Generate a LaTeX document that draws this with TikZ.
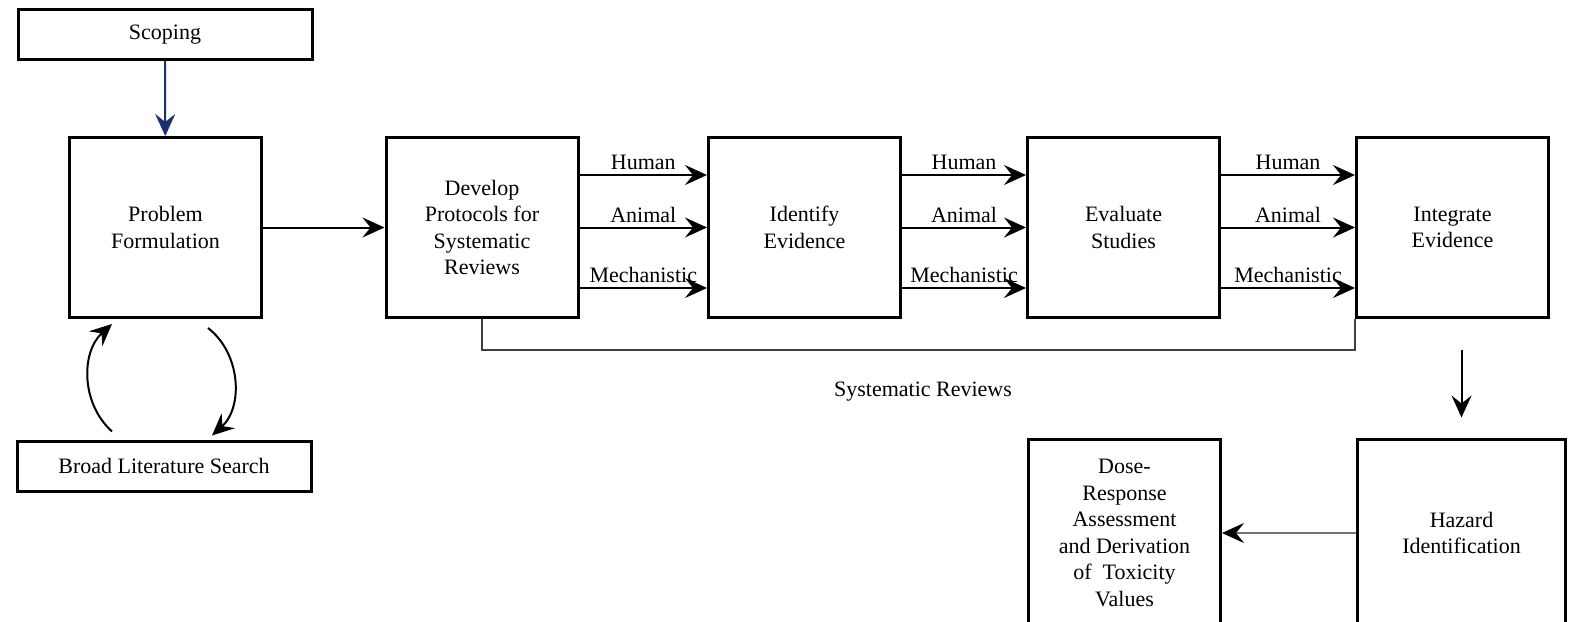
\documentclass[tikz,border=0pt]{standalone}
\usepackage{fontspec}
\setmainfont{Liberation Serif}
\usetikzlibrary{arrows.meta}
\definecolor{scopeblue}{RGB}{28,48,110}
\begin{document}
\begin{tikzpicture}[
      x=0.5pt,y=-0.5pt,
      >={Stealth[length=11pt,width=10pt,inset=4pt]},
      box/.style={
        draw,line width=1.5pt,minimum width=96pt,minimum height=90pt,
        inner sep=2pt,align=center,font=\fontsize{11}{13.25}\selectfont
      },
      wide/.style={
        draw,line width=1.5pt,minimum width=147pt,minimum height=25pt,
        inner sep=2pt,font=\fontsize{11}{13.25}\selectfont
      },
      lbl/.style={above,inner sep=2pt,font=\fontsize{11}{13.25}\selectfont},
      flow/.style={line width=1pt,->},
    ]
    \useasboundingbox (0,0) rectangle (1572,621);
    \node[wide] (scoping) at (165,34.5) {Scoping};
    \node[box] (prob) at (165.5,227.5) {Problem\\Formulation};
    \node[wide] (search) at (164,466) {Broad Literature Search};
    \node[box] (protocol) at (482,227.5) {Develop\\Protocols for\\Systematic\\Reviews};
    \node[box] (identify) at (804.5,227.5) {Identify\\Evidence};
    \node[box] (evaluate) at (1123.5,227.5) {Evaluate\\Studies};
    \node[box] (integrate) at (1452.5,227.5) {Integrate\\Evidence};
    \node[box,minimum width=104pt,minimum height=94pt] (hazard) at (1461.5,533) {Hazard\\Identification};
    \node[box,minimum height=94pt] (dose) at (1124.5,533) {Dose-\\Response\\Assessment\\and Derivation\\of~ Toxicity\\Values};
    \node[font=\fontsize{11}{13.25}\selectfont] (sysrev) at (923,392) {Systematic Reviews};
    \coordinate (sysmid) at (923,350);
    \draw[flow,scopeblue] (scoping) -- (prob);
    \draw[flow] (prob) -- (protocol);
    \draw[flow] ([yshift=4pt,xshift=-26pt]search.north) to[bend left=48] ([yshift=-2.5pt,xshift=-26.75pt]prob.south);
    \draw[flow] ([yshift=-4.5pt,xshift=21.25pt]prob.south) to[bend left=50] ([yshift=2pt,xshift=24pt]search.north);
    \draw[flow] ([yshift=26.25pt]protocol.east) -- node[lbl] {Human} ([yshift=26.25pt]identify.west);
    \draw[flow] (protocol.east) -- node[lbl] {Animal} (identify.west);
    \draw[flow] ([yshift=-30.25pt]protocol.east) -- node[lbl] {Mechanistic} ([yshift=-30.25pt]identify.west);
    \draw[flow] ([yshift=26.25pt]identify.east) -- node[lbl] {Human} ([yshift=26.25pt]evaluate.west);
    \draw[flow] (identify.east) -- node[lbl] {Animal} (evaluate.west);
    \draw[flow] ([yshift=-30.25pt]identify.east) -- node[lbl] {Mechanistic} ([yshift=-30.25pt]evaluate.west);
    \draw[flow] ([yshift=26.25pt]evaluate.east) -- node[lbl] {Human} ([yshift=26.25pt]integrate.west);
    \draw[flow] (evaluate.east) -- node[lbl] {Animal} (integrate.west);
    \draw[flow] ([yshift=-30.25pt]evaluate.east) -- node[lbl] {Mechanistic} ([yshift=-30.25pt]integrate.west);
    \draw[line width=0.8pt,black!75] (protocol.south) |- (sysmid) -| (integrate.south west);
    \draw[flow,shorten <=15.5pt,shorten >=10pt] (hazard.north |- integrate.south) -- (hazard.north);
    \draw[line width=1.2pt,black!55,-{Stealth[length=11pt,width=10pt,inset=4pt,black]}] (hazard) -- (dose);
  \end{tikzpicture}
\end{document}
